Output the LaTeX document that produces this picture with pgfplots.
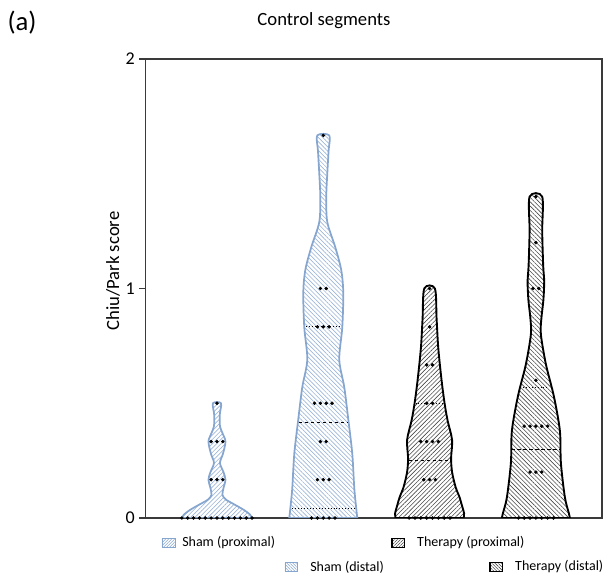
\documentclass[border=0pt]{standalone}
\usepackage{pgfplots}
\pgfplotsset{compat=1.18}
\usepackage{pgfplotstable}
\usepackage{fontspec}
\setmainfont{Carlito}
\usetikzlibrary{patterns.meta}
\definecolor{shamc}{HTML}{86A6D0}
\definecolor{shamh}{HTML}{9DB6D8}
\definecolor{therh}{HTML}{4A4A4A}
\definecolor{axc}{HTML}{3A3A3A}

\pgfplotstableread{
w y
35 0
33 0.015
27 0.035
17 0.06
9 0.08
5.5 0.1
6.5 0.13
8.5 0.167
6.5 0.2
3 0.24
6 0.28
8.5 0.333
5.5 0.37
3 0.4
2.8 0.45
4 0.5
-4 0.5
-2.8 0.45
-3 0.4
-5.5 0.37
-8.5 0.333
-6 0.28
-3 0.24
-6.5 0.2
-8.5 0.167
-6.5 0.13
-5.5 0.1
-9 0.08
-17 0.06
-27 0.035
-33 0.015
-35 0
}\vA

\pgfplotstableread{
w y
34 0
33 0.04
31 0.13
29 0.28
25 0.43
21 0.57
16 0.69
19 0.83
20 0.98
18 1.08
12 1.18
4 1.29
3 1.4
4 1.5
5.3 1.6
6 1.667
-6 1.667
-5.3 1.6
-4 1.5
-3 1.4
-4 1.29
-12 1.18
-18 1.08
-20 0.98
-19 0.83
-16 0.69
-21 0.57
-25 0.43
-29 0.28
-31 0.13
-33 0.04
-34 0
}\vB

\pgfplotstableread{
w y
34 0
34.5 0.02
32 0.06
30 0.09
26 0.135
22.5 0.2
21.5 0.26
22.5 0.34
18 0.425
15 0.5
12 0.6
8.7 0.74
7 0.87
5.3 1.0
-5.3 1.0
-7 0.87
-8.7 0.74
-12 0.6
-15 0.5
-18 0.425
-22.5 0.34
-21.5 0.26
-22.5 0.2
-26 0.135
-30 0.09
-32 0.06
-34.5 0.02
-34 0
}\vC

\pgfplotstableread{
w y
34 0
33 0.02
29 0.09
25 0.24
24 0.38
18 0.53
10 0.67
5 0.8
5.5 0.87
7.5 0.95
8.3 1.03
7.3 1.1
6.3 1.25
6.3 1.4
-6.3 1.4
-6.3 1.25
-7.3 1.1
-8.3 1.03
-7.5 0.95
-5.5 0.87
-5 0.8
-10 0.67
-18 0.53
-24 0.38
-25 0.24
-29 0.09
-33 0.02
-34 0
}\vD

\pgfplotstableread{
c k y
1 0 0.5
1 -1 0.333
1 0 0.333
1 1 0.333
1 -1 0.167
1 0 0.167
1 1 0.167
1 -6 0
1 -5 0
1 -4 0
1 -3 0
1 -2 0
1 -1 0
1 0 0
1 1 0
1 2 0
1 3 0
1 4 0
1 5 0
1 6 0
2 0 1.667
2 -0.5 1
2 0.5 1
2 -1 0.833
2 0 0.833
2 1 0.833
2 -1.5 0.5
2 -0.5 0.5
2 0.5 0.5
2 1.5 0.5
2 -0.5 0.333
2 0.5 0.333
2 -1 0.167
2 0 0.167
2 1 0.167
2 -2 0
2 -1 0
2 0 0
2 1 0
2 2 0
3 0 1
3 0 0.833
3 -0.5 0.667
3 0.5 0.667
3 -0.5 0.5
3 0.5 0.5
3 -1.5 0.333
3 -0.5 0.333
3 0.5 0.333
3 1.5 0.333
3 -1 0.167
3 0 0.167
3 1 0.167
3 -3.5 0
3 -2.5 0
3 -1.5 0
3 -0.5 0
3 0.5 0
3 1.5 0
3 2.5 0
3 3.5 0
4 0 1.4
4 0 1.2
4 -0.5 1
4 0.5 1
4 0 0.6
4 -2 0.4
4 -1 0.4
4 0 0.4
4 1 0.4
4 2 0.4
4 -1 0.2
4 0 0.2
4 1 0.2
4 -3 0
4 -2 0
4 -1 0
4 0 0
4 1 0
4 2 0
4 3 0
}\dots

\begin{document}
\begin{tikzpicture}
\useasboundingbox (-109.1pt,-45pt) rectangle (346.9pt,388.5pt);
\begin{axis}[
  scale only axis,
  width=342.4pt, height=344.25pt,
  xmin=0.3274, xmax=4.6218,
  ymin=0, ymax=2,
  ytick={0,1,2}, xtick=\empty,
  ytick pos=left,
  tick align=outside,
  major tick length=4.5pt,
  axis line style={line width=1.1pt, color=axc},
  tick style={line width=1.1pt, color=axc},
  tick label style={font=\fontsize{13.5}{15}\selectfont},
  /pgf/number format/assume math mode=true,
]
\addplot[draw=shamc, line width=1.3pt, smooth, tension=0.5,
  pattern={Lines[angle=45,distance=2.3pt,line width=0.5pt]}, pattern color=shamh]
  table[x expr=1+\thisrow{w}/106.3, y=y] {\vA} -- cycle;
\addplot[draw=shamc, line width=1.3pt, smooth, tension=0.5,
  pattern={Lines[angle=-45,distance=2.3pt,line width=0.5pt]}, pattern color=shamh]
  table[x expr=2+\thisrow{w}/106.3, y=y] {\vB} -- cycle;
\addplot[draw=black, line width=1.4pt, smooth, tension=0.5,
  pattern={Lines[angle=45,distance=2.3pt,line width=0.45pt]}, pattern color=therh]
  table[x expr=3+\thisrow{w}/106.3, y=y] {\vC} -- cycle;
\addplot[draw=black, line width=1.4pt, smooth, tension=0.5,
  pattern={Lines[angle=-45,distance=2.3pt,line width=0.45pt]}, pattern color=therh]
  table[x expr=4+\thisrow{w}/106.3, y=y] {\vD} -- cycle;
% medians (dashed) and quartiles (dotted)
\addplot[black, line width=0.6pt, dash pattern=on 2.5pt off 2pt] coordinates {(1.770,0.417) (2.230,0.417)};
\addplot[black, line width=0.6pt, dash pattern=on 0.6pt off 1.6pt] coordinates {(1.840,0.833) (2.160,0.833)};
\addplot[black, line width=0.6pt, dash pattern=on 0.6pt off 1.6pt] coordinates {(1.710,0.04) (2.290,0.04)};
\addplot[black, line width=0.6pt, dash pattern=on 2.5pt off 2pt] coordinates {(2.802,0.25) (3.198,0.25)};
\addplot[black, line width=0.6pt, dash pattern=on 0.6pt off 1.6pt] coordinates {(2.868,0.5) (3.132,0.5)};
\addplot[black, line width=0.6pt, dash pattern=on 2.5pt off 2pt] coordinates {(3.770,0.3) (4.230,0.3)};
\addplot[black, line width=0.6pt, dash pattern=on 0.6pt off 1.6pt] coordinates {(3.878,0.57) (4.122,0.57)};
% data points
\addplot[only marks, mark=*, mark size=1.1pt, black]
  table[x expr=\thisrow{c}+\thisrow{k}*0.055, y=y] {\dots};
\end{axis}
% titles and labels
\node[anchor=base, font=\fontsize{14}{16}\selectfont] at (133.9pt,369pt) {Control segments};
\node[font=\fontsize{20}{22}\selectfont] at (-92.6pt,371.25pt) {(a)};
\node[rotate=90, font=\fontsize{14}{16}\selectfont] at (-24.4pt,185.25pt) {Chiu/Park score};
% legend
\draw[draw=shamc, line width=0.5pt, pattern={Lines[angle=45,distance=1.6pt,line width=0.4pt]}, pattern color=shamc] (12.4pt,-22.1pt) rectangle (22.1pt,-15.4pt);
\node[anchor=west, font=\fontsize{10.5}{12}\selectfont, inner sep=0pt] at (27.4pt,-18.75pt) {Sham (proximal)};
\draw[draw=shamc, line width=0.5pt, pattern={Lines[angle=-45,distance=1.6pt,line width=0.4pt]}, pattern color=shamc] (104.6pt,-40.1pt) rectangle (113.6pt,-33.4pt);
\node[anchor=west, font=\fontsize{10.5}{12}\selectfont, inner sep=0pt] at (123.4pt,-36.75pt) {Sham (distal)};
\draw[draw=black, line width=0.8pt, pattern={Lines[angle=45,distance=1.6pt,line width=0.4pt]}, pattern color=therh] (184.9pt,-22.1pt) rectangle (194.6pt,-15.4pt);
\node[anchor=west, font=\fontsize{10.5}{12}\selectfont, inner sep=0pt] at (203.6pt,-18.75pt) {Therapy (proximal)};
\draw[draw=black, line width=0.8pt, pattern={Lines[angle=-45,distance=1.6pt,line width=0.4pt]}, pattern color=therh] (258.4pt,-40.1pt) rectangle (268.1pt,-33.4pt);
\node[anchor=west, font=\fontsize{10.5}{12}\selectfont, inner sep=0pt] at (277.1pt,-36.75pt) {Therapy (distal)};
\end{tikzpicture}
\end{document}
